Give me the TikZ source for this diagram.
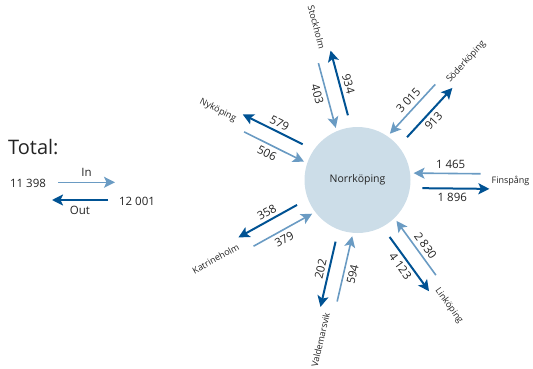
\documentclass[tikz,border=0pt]{standalone}
\usepackage{fontspec}
\setmainfont{Open Sans}
\usetikzlibrary{arrows.meta, positioning}
\definecolor{flowdark}{RGB}{0,82,147}
\definecolor{flowlight}{RGB}{106,155,195}
\definecolor{cityfill}{RGB}{204,221,232}
\definecolor{textgray}{RGB}{35,35,35}

\begin{document}
\begin{tikzpicture}[x=1pt, y=1pt, text=textgray]
    % Styles
    \tikzstyle{inarrow} = [flowlight, line width=1.6pt, -{Stealth[length=11pt, width=11pt, inset=2.5pt]}]
    \tikzstyle{outarrow} = [flowdark, line width=2pt, -{Stealth[length=11pt, width=11pt, inset=2.5pt]}]
    \tikzstyle{num} = [text=textgray, font=\fontsize{11.5}{12}\selectfont, inner sep=0pt]
    \tikzstyle{town} = [text=textgray, font=\fontsize{9}{10}\selectfont, inner sep=0pt]
    \useasboundingbox (0,0) rectangle (533,368);

    % Norrköping
    \node[circle, fill=cityfill, minimum size=106pt, inner sep=0pt, font=\fontsize{10.5}{11}\selectfont] (norr) at (357.5,188) {Norrköping};

    % Stockholm
    \begin{scope}[shift={(norr.center)}, rotate=105]
        \coordinate (sto-a) at (123,7.5); \coordinate (sto-b) at (56,7.5);
        \coordinate (sto-c) at (65,-7.5); \coordinate (sto-d) at (132,-7.5);
        \draw[inarrow] (sto-a) -- (sto-b);
        \draw[outarrow] (sto-c) -- (sto-d);
        \node[num, rotate=-75] (sto-in) at (93,16.5) {403};
        \node[num, rotate=-75] (sto-out) at (95,-16) {934};
        \node[town, rotate=-75, anchor=east] (sto) at (136,0) {Stockholm};
    \end{scope}

    % Söderköping
    \begin{scope}[shift={(norr.center)}, rotate=47.4]
        \coordinate (sod-a) at (123,7.5); \coordinate (sod-b) at (56,7.5);
        \coordinate (sod-c) at (65,-7.5); \coordinate (sod-d) at (132,-7.5);
        \draw[inarrow] (sod-a) -- (sod-b);
        \draw[outarrow] (sod-c) -- (sod-d);
        \node[num, rotate=47.4] (sod-in) at (93,16.5) {3 015};
        \node[num, rotate=47.4] (sod-out) at (95,-16) {913};
        \node[town, rotate=47.4, anchor=west] (sod) at (134,0) {Söderköping};
    \end{scope}

    % Finspång
    \begin{scope}[shift={(norr.center)}, rotate=-0.6]
        \coordinate (fin-a) at (123,7.5); \coordinate (fin-b) at (56,7.5);
        \coordinate (fin-c) at (65,-7.5); \coordinate (fin-d) at (132,-7.5);
        \draw[inarrow] (fin-a) -- (fin-b);
        \draw[outarrow] (fin-c) -- (fin-d);
        \node[num] (fin-in) at (93,16.5) {1 465};
        \node[num] (fin-out) at (95,-16) {1 896};
        \node[town, anchor=west] (fin) at (134,0) {Finspång};
    \end{scope}

    % Linköping
    \begin{scope}[shift={(norr.center)}, rotate=-54]
        \coordinate (lin-a) at (123,7.5); \coordinate (lin-b) at (56,7.5);
        \coordinate (lin-c) at (65,-7.5); \coordinate (lin-d) at (132,-7.5);
        \draw[inarrow] (lin-a) -- (lin-b);
        \draw[outarrow] (lin-c) -- (lin-d);
        \node[num, rotate=-54] (lin-in) at (93,16.5) {2 830};
        \node[num, rotate=-54] (lin-out) at (95,-16) {4 123};
        \node[town, rotate=-54, anchor=west] (lin) at (135,0) {Linköping};
    \end{scope}

    % Valdemarsvik
    \begin{scope}[shift={(norr.center)}, rotate=257]
        \coordinate (val-a) at (123,7.5); \coordinate (val-b) at (56,7.5);
        \coordinate (val-c) at (65,-7.5); \coordinate (val-d) at (132,-7.5);
        \draw[inarrow] (val-a) -- (val-b);
        \draw[outarrow] (val-c) -- (val-d);
        \node[num, rotate=77] (val-in) at (93,16.5) {594};
        \node[num, rotate=77] (val-out) at (95,-16) {202};
        \node[town, rotate=77, anchor=east] (val) at (136,0) {Valdemarsvik};
    \end{scope}

    % Katrineholm
    \begin{scope}[shift={(norr.center)}, rotate=209]
        \coordinate (kat-a) at (123,7.5); \coordinate (kat-b) at (56,7.5);
        \coordinate (kat-c) at (65,-7.5); \coordinate (kat-d) at (132,-7.5);
        \draw[inarrow] (kat-a) -- (kat-b);
        \draw[outarrow] (kat-c) -- (kat-d);
        \node[num, rotate=29] (kat-in) at (93,16.5) {379};
        \node[num, rotate=29] (kat-out) at (95,-16) {358};
        \node[town, rotate=29, anchor=east] (kat) at (136,0) {Katrineholm};
    \end{scope}

    % Nyköping
    \begin{scope}[shift={(norr.center)}, rotate=153.5]
        \coordinate (nyk-a) at (123,7.5); \coordinate (nyk-b) at (56,7.5);
        \coordinate (nyk-c) at (65,-7.5); \coordinate (nyk-d) at (132,-7.5);
        \draw[inarrow] (nyk-a) -- (nyk-b);
        \draw[outarrow] (nyk-c) -- (nyk-d);
        \node[num, rotate=-26.5] (nyk-in) at (93,16.5) {506};
        \node[num, rotate=-26.5] (nyk-out) at (95,-16) {579};
        \node[town, rotate=-26.5, anchor=east] (nyk) at (136,0) {Nyköping};
    \end{scope}

    % Total
    \node[font=\fontsize{20}{22}\selectfont, anchor=west, inner sep=0pt] (total) at (8,221) {Total:};
    \node[num] (sumin) at (28,185) {11 398};
    \node[num] (sumout) at (137,167) {12 001};
    \coordinate (tin-a) at (58,185.7); \coordinate (tin-b) at (115,185.7);
    \coordinate (tout-a) at (108,168); \coordinate (tout-b) at (52,168);
    \draw[inarrow] (tin-a) -- node[num, above=5pt] (inlbl) {In} (tin-b);
    \draw[outarrow] (tout-a) -- node[num, below=5pt] (outlbl) {Out} (tout-b);
\end{tikzpicture}
\end{document}
